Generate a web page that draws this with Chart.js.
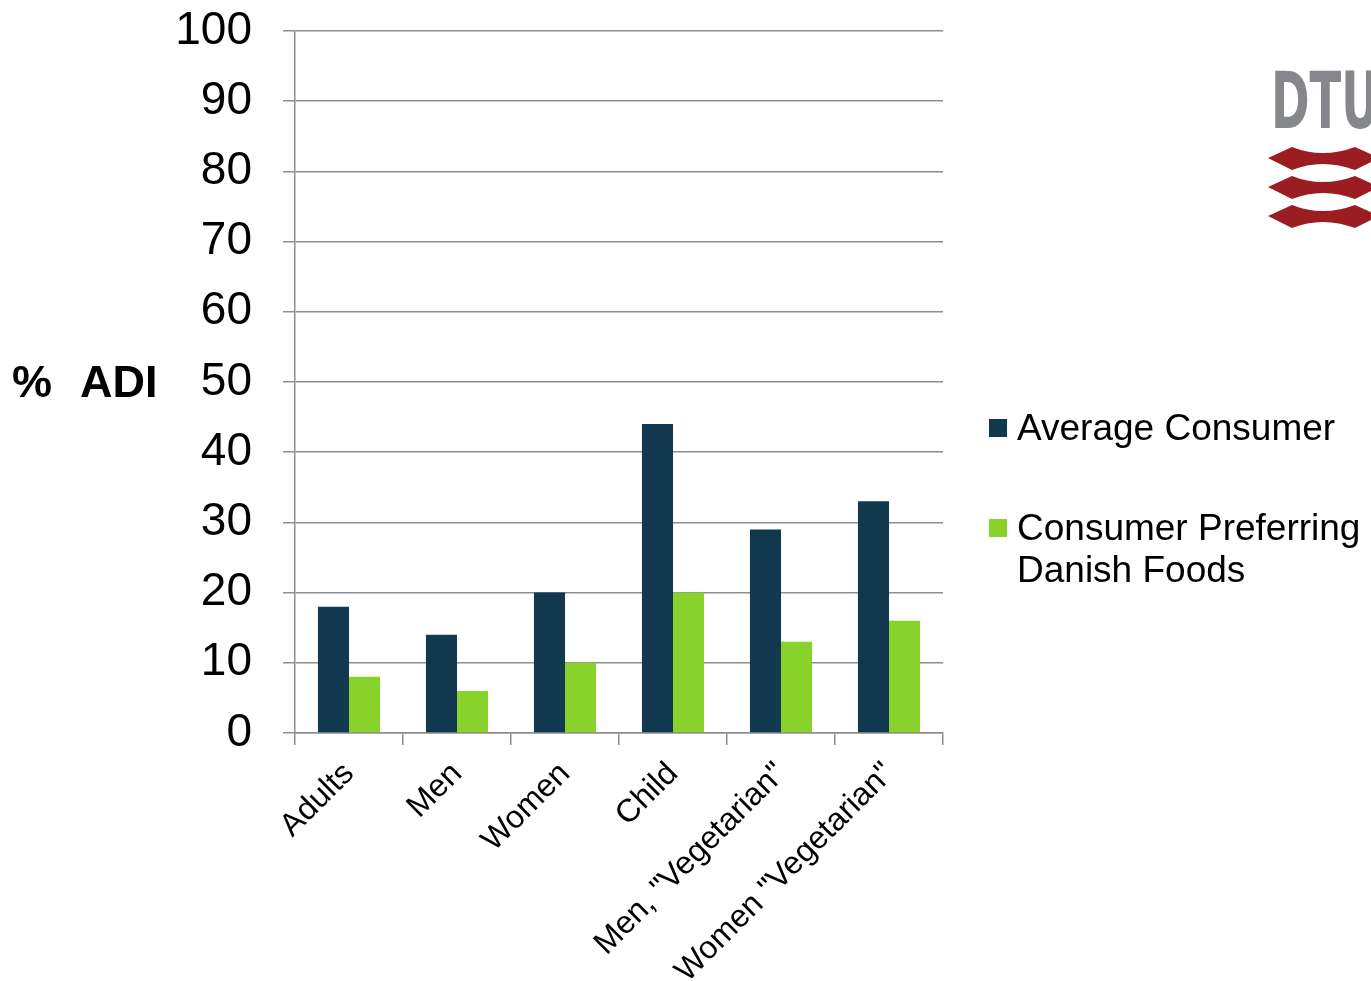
<!DOCTYPE html>
<html lang="en">
  <head>
    <meta charset="UTF-8" />
    <title>% ADI</title>
    <script src="https://cdn.jsdelivr.net/npm/chart.js"></script>
    <style>
      body { margin: 0; background: #fff; }
      #wrap { position: relative; width: 1371px; height: 981px; }
      #logo { position: absolute; left: 1260px; top: 60px; }
    </style>
  </head>
  <body>
    <div id="wrap">
      <canvas id="myChart"></canvas>
      <!-- DTU logo -->
      <svg id="logo" width="111" height="180" viewBox="0 0 111 180">
        <text x="11" y="68" font-family="Liberation Sans Narrow, DejaVu Sans Condensed, Liberation Sans" font-weight="bold"
          font-size="78" fill="#85878a" textLength="108" lengthAdjust="spacingAndGlyphs">DTU</text>
        <g fill="#9b1c21">
          <path id="wave" d="M8,98 L32,87 Q47,93 63,93 Q79,93 95,87 L119,98 L95,110 Q79,104 63,104 Q47,104 32,110 Z" />
          <use href="#wave" y="29" />
          <use href="#wave" y="58" />
        </g>
      </svg>
    </div>
    <script>
      var categorias = ["Adults", "Men", "Women", "Child", 'Men, "Vegetarian"', 'Women "Vegetarian"'];
      var mediaConsumidor = [18, 14, 20, 44, 29, 33];
      var consumidorDinamarques = [8, 6, 10, 20, 13, 16];
      var legendas = [["Average Consumer"], ["Consumer Preferring", "Danish Foods"]];
      var cores = ["#12384f", "#89d22b"];

      var fonte = "'Liberation Sans', Arial, sans-serif";
      var cinza = "#8e8e8e";

      // "% ADI" title next to the y axis, centred on the 50 tick
      const tituloY = {
        id: "tituloY",
        afterDraw(chart) {
          const ctx = chart.ctx;
          const y = chart.scales.y.getPixelForValue(50) + 3;
          ctx.save();
          ctx.font = "bold 45px " + fonte;
          ctx.fillStyle = "#000";
          ctx.textBaseline = "middle";
          ctx.fillText("%", 12, y);
          ctx.fillText("ADI", 80, y);
          ctx.restore();
        },
      };

      // legend on the right, second entry on two lines
      const legenda = {
        id: "legenda",
        afterDraw(chart) {
          const ctx = chart.ctx;
          ctx.save();
          ctx.font = "37px " + fonte;
          ctx.textBaseline = "alphabetic";
          var topos = [440, 540];
          chart.data.datasets.forEach(function (ds, i) {
            var base = topos[i];
            ctx.fillStyle = ds.backgroundColor;
            ctx.fillRect(989, base - 21, 18, 18);
            ctx.fillStyle = "#000";
            legendas[i].forEach(function (linha, j) {
              ctx.fillText(linha, 1017, base + j * 42);
            });
          });
          ctx.restore();
        },
      };

      const ctx = document.getElementById("myChart");
      new Chart(ctx, {
        type: "bar",
        data: {
          labels: categorias,
          datasets: [
            {
              label: legendas[0].join(" "),
              data: mediaConsumidor,
              backgroundColor: cores[0],
              borderWidth: 0,
            },
            {
              label: legendas[1].join(" "),
              data: consumidorDinamarques,
              backgroundColor: cores[1],
              borderWidth: 0,
            },
          ],
        },
        options: {
          responsive: true,
          maintainAspectRatio: false,
          animation: false,
          categoryPercentage: 0.575,
          barPercentage: 1,
          layout: { padding: { left: 0, right: 428, top: 31, bottom: 0 } },
          plugins: {
            legend: { display: false },
            tooltip: { enabled: false },
          },
          scales: {
            y: {
              min: 0,
              max: 100,
              afterFit(scale) {
                scale.width = 295;
                scale.paddingTop = 0;
                scale.paddingBottom = 0;
              },
              ticks: {
                stepSize: 10,
                padding: 31,
                color: "#000",
                font: { family: fonte, size: 46 },
              },
              grid: { color: cinza, lineWidth: 1.5, tickLength: 12 },
              border: { color: cinza, width: 1.5 },
            },
            x: {
              afterFit(scale) {
                scale.height = 248;
              },
              ticks: {
                minRotation: 45,
                maxRotation: 45,
                padding: 10,
                color: "#000",
                font: { family: fonte, size: 32 },
              },
              grid: {
                offset: true,
                drawOnChartArea: false,
                color: cinza,
                lineWidth: 1.5,
                tickLength: 12,
              },
              border: { color: cinza, width: 1.5 },
            },
          },
        },
        plugins: [tituloY, legenda],
      });
    </script>
  </body>
</html>
